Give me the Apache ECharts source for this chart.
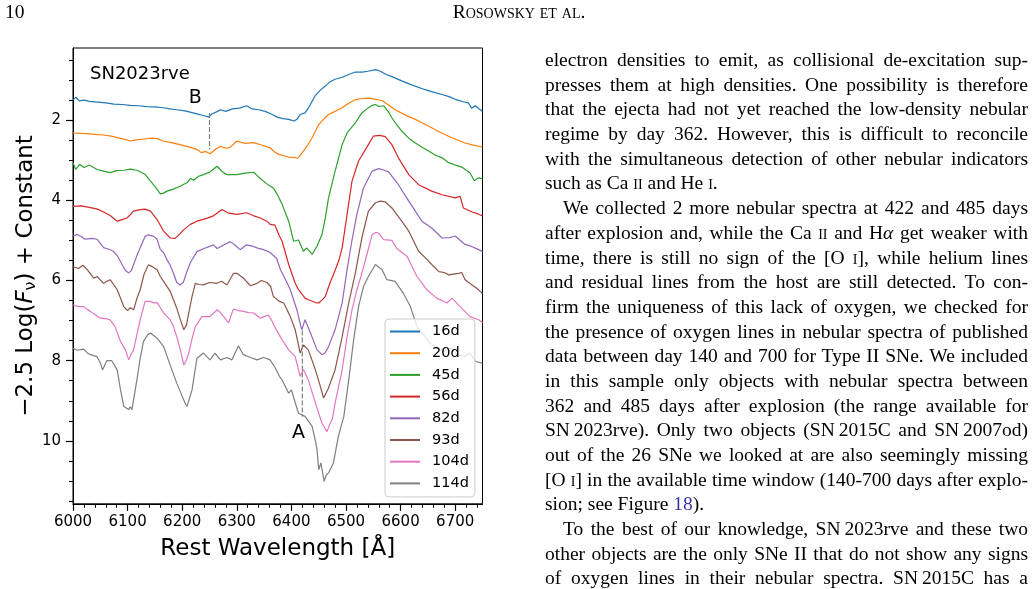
<!DOCTYPE html>
<html>
<head>
<meta charset="utf-8">
<script src="https://cdn.jsdelivr.net/npm/echarts@6/dist/echarts.min.js"></script>
<style>
  body { margin: 0; background: #fff; }
  #page { position: relative; width: 1035px; height: 589px; overflow: hidden; }
  #spectra { position: absolute; left: 0; top: 0; width: 1035px; height: 589px; }
  .txt { position: absolute; font-family: 'Liberation Serif', 'DejaVu Serif', serif; color: #000; font-size: 19.5px; }
  #col { left: 545px; top: 48px; width: 483px; line-height: 24.7px; }
  #col div { text-align: justify; text-align-last: justify; height: 24.7px; }
  #col div.end { text-align-last: left; }
  #col div.ind { text-indent: 18px; }
  .sc { font-variant: small-caps; }
  .link { color: #3535a5; }
</style>
</head>
<body>
<div id="page">
  <div id="spectra"></div>
  <div class="txt" style="left:5px;top:1px;line-height:22px;">10</div>
  <div class="txt sc" style="left:419px;top:1px;width:200px;text-align:center;line-height:22px;">Rosowsky et al.</div>
  <div class="txt" id="col">
    <div>electron densities to emit, as collisional de-excitation sup-</div>
    <div>presses them at high densities. One possibility is therefore</div>
    <div>that the ejecta had not yet reached the low-density nebular</div>
    <div>regime by day 362. However, this is difficult to reconcile</div>
    <div>with the simultaneous detection of other nebular indicators</div>
    <div class="end">such as Ca <span class="sc">ii</span> and He <span class="sc">i</span>.</div>
    <div class="ind">We collected 2 more nebular spectra at 422 and 485 days</div>
    <div>after explosion and, while the Ca <span class="sc">ii</span> and H<i>α</i> get weaker with</div>
    <div>time, there is still no sign of the [O <span class="sc">i</span>], while helium lines</div>
    <div>and residual lines from the host are still detected. To con-</div>
    <div>firm the uniqueness of this lack of oxygen, we checked for</div>
    <div>the presence of oxygen lines in nebular spectra of published</div>
    <div>data between day 140 and 700 for Type II SNe. We included</div>
    <div>in this sample only objects with nebular spectra between</div>
    <div>362 and 485 days after explosion (the range available for</div>
    <div>SN&thinsp;2023rve). Only two objects (SN&thinsp;2015C and SN&thinsp;2007od)</div>
    <div>out of the 26 SNe we looked at are also seemingly missing</div>
    <div>[O <span class="sc">i</span>] in the available time window (140-700 days after explo-</div>
    <div class="end">sion; see Figure <span class="link">18</span>).</div>
    <div class="ind">To the best of our knowledge, SN&thinsp;2023rve and these two</div>
    <div>other objects are the only SNe II that do not show any signs</div>
    <div>of oxygen lines in their nebular spectra. SN&thinsp;2015C has a</div>
  </div>
</div>
<script>
  // wavelength [Å], -2.5 log(F) + const
  var spec16d = [[6000,1.50],[6005,1.43],[6012,1.52],[6020,1.50],[6030,1.53],[6045,1.55],[6060,1.57],[6075,1.60],[6090,1.61],[6105,1.63],[6120,1.64],[6135,1.66],[6150,1.67],[6165,1.69],[6178,1.72],[6190,1.74],[6205,1.77],[6220,1.82],[6232,1.86],[6240,1.89],[6248,1.92],[6255,1.84],[6262,1.80],[6270,1.74],[6280,1.78],[6292,1.72],[6305,1.70],[6318,1.64],[6328,1.72],[6340,1.74],[6352,1.78],[6365,1.86],[6375,1.93],[6385,1.96],[6395,1.98],[6405,2.02],[6410,1.98],[6416,1.86],[6425,1.82],[6432,1.68],[6438,1.53],[6444,1.38],[6453,1.25],[6462,1.15],[6471,1.04],[6480,0.98],[6493,0.93],[6505,0.86],[6517,0.80],[6530,0.80],[6540,0.78],[6554,0.74],[6563,0.78],[6572,0.85],[6585,0.92],[6602,1.02],[6620,1.12],[6645,1.24],[6660,1.30],[6676,1.36],[6690,1.42],[6700,1.48],[6715,1.54],[6724,1.57],[6730,1.70],[6737,1.64],[6744,1.72],[6750,1.78]];
  var spec20d = [[6000,2.32],[6015,2.33],[6030,2.34],[6045,2.36],[6056,2.37],[6070,2.40],[6085,2.45],[6095,2.48],[6105,2.52],[6115,2.49],[6130,2.47],[6145,2.45],[6154,2.46],[6165,2.52],[6180,2.56],[6196,2.61],[6210,2.66],[6227,2.73],[6235,2.81],[6243,2.78],[6251,2.84],[6260,2.74],[6270,2.65],[6280,2.70],[6288,2.68],[6300,2.52],[6315,2.58],[6331,2.56],[6345,2.62],[6361,2.69],[6370,2.80],[6378,2.86],[6395,2.92],[6405,2.93],[6412,2.95],[6422,2.77],[6430,2.62],[6438,2.44],[6450,2.11],[6460,1.96],[6468,1.86],[6480,1.78],[6493,1.69],[6505,1.58],[6517,1.49],[6530,1.46],[6541,1.45],[6555,1.48],[6566,1.51],[6578,1.62],[6590,1.74],[6610,1.88],[6627,1.98],[6640,2.07],[6657,2.19],[6672,2.30],[6688,2.40],[6703,2.49],[6718,2.57],[6735,2.63],[6750,2.67]];
  var spec45d = [[6000,3.06],[6005,3.23],[6012,3.10],[6020,3.18],[6030,3.12],[6044,3.23],[6056,3.27],[6068,3.31],[6080,3.26],[6093,3.25],[6105,3.22],[6117,3.25],[6132,3.35],[6142,3.52],[6150,3.65],[6160,3.84],[6166,3.82],[6172,3.77],[6184,3.72],[6196,3.65],[6210,3.55],[6215,3.45],[6221,3.50],[6230,3.40],[6239,3.36],[6250,3.30],[6264,3.15],[6273,3.28],[6282,3.36],[6300,3.36],[6315,3.32],[6331,3.30],[6340,3.42],[6349,3.52],[6358,3.62],[6367,3.69],[6374,3.85],[6383,4.10],[6395,4.52],[6404,5.02],[6413,4.99],[6422,5.27],[6428,5.19],[6438,5.35],[6447,5.14],[6456,4.85],[6462,4.45],[6468,3.94],[6480,3.27],[6493,2.61],[6502,2.32],[6517,2.07],[6529,1.82],[6540,1.70],[6548,1.63],[6554,1.61],[6560,1.66],[6569,1.64],[6578,1.80],[6584,1.94],[6593,2.12],[6602,2.27],[6615,2.45],[6627,2.57],[6640,2.68],[6651,2.77],[6665,2.88],[6676,2.94],[6688,3.06],[6700,3.12],[6712,3.17],[6727,3.31],[6735,3.51],[6742,3.44],[6750,3.46]];
  var spec56d = [[6000,4.15],[6015,4.14],[6032,4.18],[6045,4.22],[6056,4.29],[6068,4.38],[6081,4.52],[6090,4.48],[6099,4.44],[6111,4.27],[6123,4.23],[6132,4.22],[6142,4.27],[6154,4.48],[6166,4.77],[6178,4.94],[6187,4.95],[6195,4.85],[6203,4.73],[6215,4.60],[6227,4.52],[6245,4.45],[6258,4.38],[6273,4.23],[6285,4.32],[6300,4.35],[6318,4.31],[6330,4.38],[6343,4.44],[6355,4.52],[6361,4.60],[6370,4.62],[6378,4.89],[6383,5.02],[6395,5.60],[6407,6.07],[6413,6.23],[6425,6.44],[6431,6.48],[6444,6.55],[6450,6.56],[6456,6.49],[6462,6.40],[6471,6.05],[6480,5.75],[6488,5.45],[6493,5.18],[6502,4.35],[6511,3.52],[6523,3.02],[6541,2.61],[6550,2.40],[6562,2.38],[6572,2.41],[6584,2.61],[6596,2.94],[6615,3.36],[6633,3.61],[6657,3.77],[6676,3.86],[6700,3.94],[6709,3.90],[6715,4.19],[6731,4.29],[6740,4.33],[6750,4.39]];
  var spec82d = [[6000,4.89],[6008,4.85],[6015,4.90],[6022,4.97],[6035,4.95],[6044,4.97],[6056,5.18],[6066,5.22],[6074,5.27],[6082,5.40],[6090,5.60],[6096,5.75],[6102,5.81],[6107,5.75],[6111,5.60],[6117,5.38],[6123,5.18],[6132,4.90],[6138,4.86],[6148,4.90],[6154,4.97],[6160,5.23],[6166,5.30],[6172,5.48],[6178,5.62],[6184,5.82],[6190,6.05],[6196,6.11],[6202,6.05],[6208,5.80],[6215,5.55],[6227,5.28],[6240,5.20],[6250,5.15],[6257,5.11],[6264,5.20],[6275,5.12],[6288,5.03],[6297,5.12],[6306,5.23],[6318,5.11],[6330,5.15],[6340,5.20],[6349,5.23],[6361,5.30],[6373,5.45],[6380,5.73],[6390,6.00],[6398,6.23],[6410,6.73],[6419,7.23],[6425,6.98],[6435,7.31],[6447,7.73],[6456,7.85],[6462,7.80],[6468,7.65],[6480,7.23],[6493,6.56],[6502,5.73],[6511,4.99],[6520,4.35],[6532,3.69],[6548,3.27],[6560,3.21],[6570,3.25],[6578,3.29],[6596,3.61],[6615,4.02],[6639,4.52],[6657,4.69],[6676,4.94],[6690,4.93],[6700,4.89],[6718,5.10],[6730,5.15],[6743,5.23],[6750,5.28]];
  var spec93d = [[6000,5.65],[6010,5.70],[6018,5.62],[6026,5.73],[6038,5.94],[6044,5.90],[6056,6.07],[6062,6.02],[6068,5.98],[6081,6.23],[6093,6.65],[6100,6.75],[6105,6.68],[6111,6.73],[6117,6.45],[6123,6.23],[6130,5.85],[6138,5.61],[6146,5.66],[6154,5.73],[6160,5.90],[6166,6.02],[6178,6.27],[6190,6.69],[6196,6.95],[6203,7.23],[6208,7.10],[6212,6.81],[6218,6.40],[6224,6.07],[6231,6.10],[6239,6.11],[6250,6.05],[6264,6.07],[6272,6.02],[6282,6.11],[6294,5.82],[6300,5.82],[6312,5.94],[6325,6.13],[6337,6.07],[6345,6.00],[6355,6.05],[6362,6.15],[6367,6.40],[6378,6.52],[6386,6.56],[6398,6.90],[6407,7.23],[6413,7.61],[6416,7.81],[6422,7.61],[6431,7.73],[6444,8.23],[6453,8.64],[6459,8.93],[6468,8.68],[6480,8.23],[6493,7.40],[6505,6.56],[6517,5.82],[6529,4.94],[6541,4.27],[6554,4.06],[6563,4.02],[6572,4.04],[6584,4.19],[6602,4.52],[6615,4.77],[6633,5.27],[6645,5.43],[6657,5.60],[6670,5.78],[6680,5.80],[6688,5.86],[6697,5.84],[6706,5.82],[6712,5.80],[6718,5.98],[6731,6.11],[6740,6.20],[6750,6.32]];
  var spec104d = [[6000,6.61],[6010,6.65],[6019,6.65],[6026,6.72],[6032,6.77],[6040,6.85],[6050,6.94],[6060,6.95],[6068,6.98],[6077,7.15],[6087,7.52],[6096,7.73],[6102,7.98],[6106,7.85],[6111,7.73],[6117,7.35],[6123,6.98],[6132,6.52],[6142,6.52],[6148,6.56],[6154,6.55],[6160,6.68],[6166,6.81],[6178,6.98],[6184,7.15],[6190,7.40],[6197,7.75],[6203,8.11],[6207,8.00],[6212,7.81],[6218,7.45],[6224,7.15],[6236,6.90],[6251,6.90],[6264,6.73],[6270,6.80],[6276,6.90],[6285,7.06],[6290,6.85],[6294,6.71],[6303,6.75],[6312,6.77],[6322,6.80],[6331,6.81],[6343,6.94],[6350,6.90],[6358,6.86],[6364,7.00],[6370,7.17],[6383,7.48],[6395,7.73],[6407,7.90],[6416,8.39],[6422,8.22],[6431,8.48],[6444,9.06],[6456,9.56],[6465,9.77],[6470,9.60],[6475,9.45],[6480,9.06],[6493,8.23],[6502,7.40],[6511,6.73],[6520,6.23],[6529,5.82],[6535,5.52],[6548,4.85],[6555,4.80],[6560,4.82],[6569,4.98],[6584,5.00],[6593,5.20],[6612,5.40],[6630,5.90],[6648,6.23],[6666,6.44],[6685,6.56],[6694,6.44],[6709,6.65],[6727,6.90],[6743,6.98],[6750,7.05]];
  var spec114d = [[6000,7.69],[6008,7.74],[6019,7.71],[6026,7.80],[6032,7.85],[6044,7.90],[6050,8.05],[6054,8.23],[6062,8.00],[6071,8.00],[6081,8.23],[6087,8.73],[6093,9.14],[6102,9.22],[6105,9.15],[6108,9.22],[6117,8.48],[6123,7.95],[6129,7.52],[6137,7.35],[6142,7.31],[6154,7.44],[6166,7.65],[6178,8.11],[6190,8.56],[6200,8.89],[6205,9.05],[6209,9.14],[6218,8.73],[6227,7.94],[6239,7.81],[6251,7.98],[6260,7.81],[6270,7.98],[6282,7.92],[6291,7.98],[6303,7.63],[6312,7.85],[6325,7.92],[6337,7.98],[6349,7.92],[6361,7.98],[6370,8.17],[6378,8.39],[6383,8.48],[6395,8.81],[6400,8.73],[6407,9.05],[6413,9.31],[6425,9.39],[6438,9.64],[6444,10.00],[6447,10.22],[6450,10.72],[6454,10.55],[6460,11.01],[6464,10.85],[6468,10.80],[6477,10.55],[6486,9.89],[6496,9.39],[6505,8.48],[6514,7.48],[6523,6.65],[6532,6.15],[6541,5.90],[6554,5.60],[6566,5.73],[6575,5.98],[6590,6.02],[6605,6.32],[6618,6.65],[6630,7.15],[6642,7.35],[6654,7.56],[6666,7.67],[6679,7.77],[6691,7.69],[6703,7.85],[6718,7.89],[6727,7.81],[6737,8.02],[6750,8.06]];

  var epochs = ['16d', '20d', '45d', '56d', '82d', '93d', '104d', '114d'];
  var spectra = [spec16d, spec20d, spec45d, spec56d, spec82d, spec93d, spec104d, spec114d];
  var colors = ['#1f77b4', '#ff7f0e', '#2ca02c', '#d62728', '#9467bd', '#8c564b', '#e377c2', '#7f7f7f'];

  var xMajorTicks = [6000, 6100, 6200, 6300, 6400, 6500, 6600, 6700];
  var xMinorTicks = [6020, 6040, 6060, 6080, 6120, 6140, 6160, 6180, 6220, 6240, 6260, 6280, 6320, 6340, 6360, 6380,
                     6420, 6440, 6460, 6480, 6520, 6540, 6560, 6580, 6620, 6640, 6660, 6680, 6720, 6740];
  var yMajorTicks = [2, 4, 6, 8, 10];
  var yMinorTicks = [0.5, 1, 1.5, 2.5, 3, 3.5, 4.5, 5, 5.5, 6.5, 7, 7.5, 8.5, 9, 9.5, 10.5, 11, 11.5];

  // dashed markers (wavelength, top, bottom) and their letters
  var markerB = [[6250, 1.82], [6250, 2.73]];
  var markerA = [[6420, 7.25], [6420, 9.40]];
  var markerLetters = [['B', 6224, 1.44], ['A', 6413, 9.81]];

  var font = 'DejaVu Sans';
  var chart = echarts.init(document.getElementById('spectra'));

  var series = spectra.map(function (d, i) {
    return {
      name: epochs[i],
      type: 'line',
      data: d,
      showSymbol: false,
      symbol: 'none',
      lineStyle: { width: 1.2, color: colors[i] },
      itemStyle: { color: colors[i] },
      emphasis: { disabled: true },
      animation: false
    };
  });
  [markerB, markerA].forEach(function (m) {
    series.push({
      type: 'line', data: m, symbol: 'none', silent: true,
      lineStyle: { width: 1.2, color: '#808080', type: [5, 2] }
    });
  });

  var tickLabel = { fontSize: 15, fontFamily: font, color: '#000', formatter: function (v) { return String(v); } };

  var graphics = [{
    type: 'text', left: 90, top: 65,
    style: { text: 'SN2023rve', fontSize: 18, fontFamily: font, fill: '#000' }
  }, {
    type: 'text', x: 26, y: 276, rotation: Math.PI / 2,
    style: {
      text: '−2.5 Log({i|F}{s|ν}) + Constant',
      fontSize: 23, fontFamily: font, fill: '#000', lineHeight: 26,
      align: 'center', verticalAlign: 'middle',
      rich: {
        i: { fontSize: 23, fontFamily: font, fontStyle: 'italic', fill: '#000' },
        s: { fontSize: 16, fontFamily: font, lineHeight: 16, verticalAlign: 'bottom', fill: '#000' }
      }
    }
  }];

  chart.setOption({
    animation: false,
    grid: { left: 73, top: 48, width: 409.5, height: 455.8, show: true, borderColor: '#000', borderWidth: 1 },
    legend: {
      data: epochs, orient: 'vertical', left: 385, top: 319,
      icon: 'rect', itemWidth: 30, itemHeight: 2, itemGap: 6.7,
      padding: [5, 6, 6, 5],
      backgroundColor: 'rgba(255,255,255,0.8)', borderColor: '#cccccc', borderWidth: 1, borderRadius: 4,
      textStyle: { fontSize: 14.5, fontFamily: font, color: '#000', lineHeight: 15, padding: [0, 0, 0, 7] }
    },
    xAxis: [{
      type: 'value', min: 6000, max: 6750, position: 'bottom',
      axisLine: { onZero: false, lineStyle: { color: '#000', width: 1 } },
      axisTick: { customValues: xMajorTicks, length: 7, lineStyle: { color: '#000', width: 1.2 } },
      axisLabel: Object.assign({ customValues: xMajorTicks, margin: 11 }, tickLabel),
      splitLine: { show: false },
      name: 'Rest Wavelength [Å]', nameLocation: 'middle', nameGap: 34,
      nameTextStyle: { fontSize: 23, fontFamily: font, color: '#000' }
    }, {
      type: 'value', min: 6000, max: 6750, position: 'bottom',
      axisLine: { show: false },
      axisTick: { customValues: xMinorTicks, length: 4, lineStyle: { color: '#000', width: 1 } },
      axisLabel: { show: false }, splitLine: { show: false }
    }],
    yAxis: [{
      type: 'value', min: 0.2, max: 11.57, inverse: true, position: 'left',
      axisLine: { show: true, onZero: false, lineStyle: { color: '#000', width: 1 } },
      axisTick: { show: true, customValues: yMajorTicks, length: 7, lineStyle: { color: '#000', width: 1.2 } },
      axisLabel: Object.assign({ customValues: yMajorTicks, margin: 12 }, tickLabel),
      splitLine: { show: false }
    }, {
      type: 'value', min: 0.2, max: 11.57, inverse: true, position: 'left',
      axisLine: { show: false },
      axisTick: { show: true, customValues: yMinorTicks, length: 4, lineStyle: { color: '#000', width: 1 } },
      axisLabel: { show: false }, splitLine: { show: false }
    }],
    graphic: graphics,
    series: series
  });

  // letters next to the dashed markers, placed through the axis scales
  markerLetters.forEach(function (l) {
    var p = chart.convertToPixel({ gridIndex: 0 }, [l[1], l[2]]);
    graphics.push({
      type: 'text', x: p[0], y: p[1], z: 10,
      style: { text: l[0], fontSize: 19, fontFamily: font, fill: '#000', align: 'center', verticalAlign: 'middle' }
    });
  });
  chart.setOption({ graphic: graphics });
</script>
</body>
</html>
